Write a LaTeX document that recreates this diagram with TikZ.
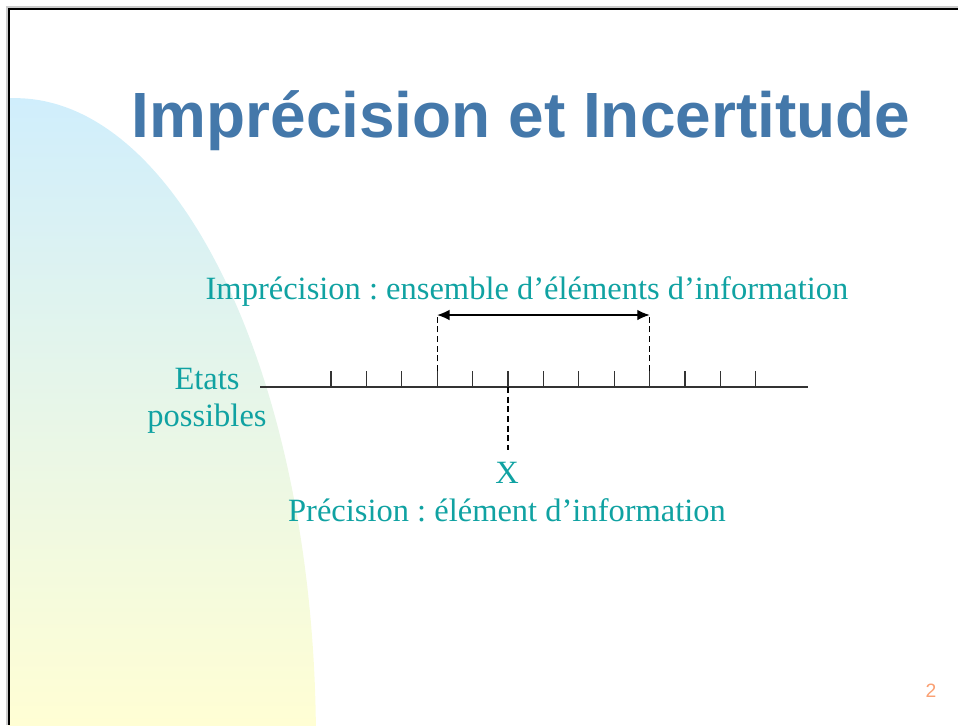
\documentclass[tikz,border=0pt]{standalone}
\usepackage{fontspec}
\setmainfont{Liberation Serif}
\newfontfamily\titlefont{Liberation Sans}
\usepackage{xcolor}
\usepackage{tikz}
\usetikzlibrary{arrows.meta}
\definecolor{titleblue}{RGB}{68,120,170}
\definecolor{textteal}{RGB}{16,162,162}
\definecolor{skyblue}{RGB}{208,238,252}
\definecolor{paleyellow}{RGB}{255,254,212}
\definecolor{pageorange}{RGB}{250,160,115}
\frenchspacing

\begin{document}
\begin{tikzpicture}[x=0.02cm,y=-0.02cm,
    label/.style={text=textteal,font=\fontsize{18.5}{22}\selectfont,anchor=base,inner sep=0pt},
    tick/.style={draw=black!80,line width=0.7pt}]
        \useasboundingbox (0,0) rectangle (958,725);
        % fond degrade
        \begin{scope}
          \clip (9,9) rectangle (958,725);
          \clip (15,740) ellipse [x radius=6.02cm, y radius=12.84cm];
          \shade[top color=skyblue,bottom color=paleyellow] (9,98) rectangle (330,725);
        \end{scope}
        \draw[gray!40,line width=0.6pt] (7,725) -- (7,7) -- (958,7);
        \draw[black,line width=0.9pt] (9,725) -- (9,9) -- (958,9);
        % titre
        \node[text=titleblue,font=\titlefont\bfseries\fontsize{36.4}{40}\selectfont,anchor=base,inner sep=0pt]
          (titre) at (521,137) {Imprécision et Incertitude};
        % axe des etats
        \coordinate (debut) at (260,387);
        \coordinate (fin) at (808,387);
        \draw[tick] (debut) -- (fin);
        \foreach \i in {0,...,12}{
          \coordinate (t\i) at (331+35.4*\i,387);
          \coordinate (h\i) at (331+35.4*\i,371);
          \draw[tick] (t\i) -- (h\i);
        }
        \coordinate (g) at (h3 |- 0,315);
        \coordinate (d) at (h9 |- 0,315);
        \coordinate (b) at (t5 |- 0,450);
        \draw[line width=0.6pt,dash pattern=on 3.5pt off 2pt] (h3) -- (g);
        \draw[line width=0.6pt,dash pattern=on 3.5pt off 2pt] (h9) -- (d);
        \draw[line width=0.6pt,dash pattern=on 3.5pt off 2pt] (t5) -- (b);
        \draw[{Latex[length=7pt,width=6pt]}-{Latex[length=7pt,width=6pt]},line width=0.7pt] (g) -- (d);
        % textes
        \node[label] (imprec) at (527,299) {Imprécision : ensemble d’éléments d’information};
        \node[label] (etats) at (207,389) {Etats};
        \node[label] (possibles) at (207,426) {possibles};
        \node[label] (x) at (507,483) {X};
        \node[label] (prec) at (507,521) {Précision : élément d’information};
        \node[text=pageorange,font=\titlefont\fontsize{11}{12}\selectfont,anchor=base,inner sep=0pt]
          (page) at (931,697) {2};
      \end{tikzpicture}
\end{document}
